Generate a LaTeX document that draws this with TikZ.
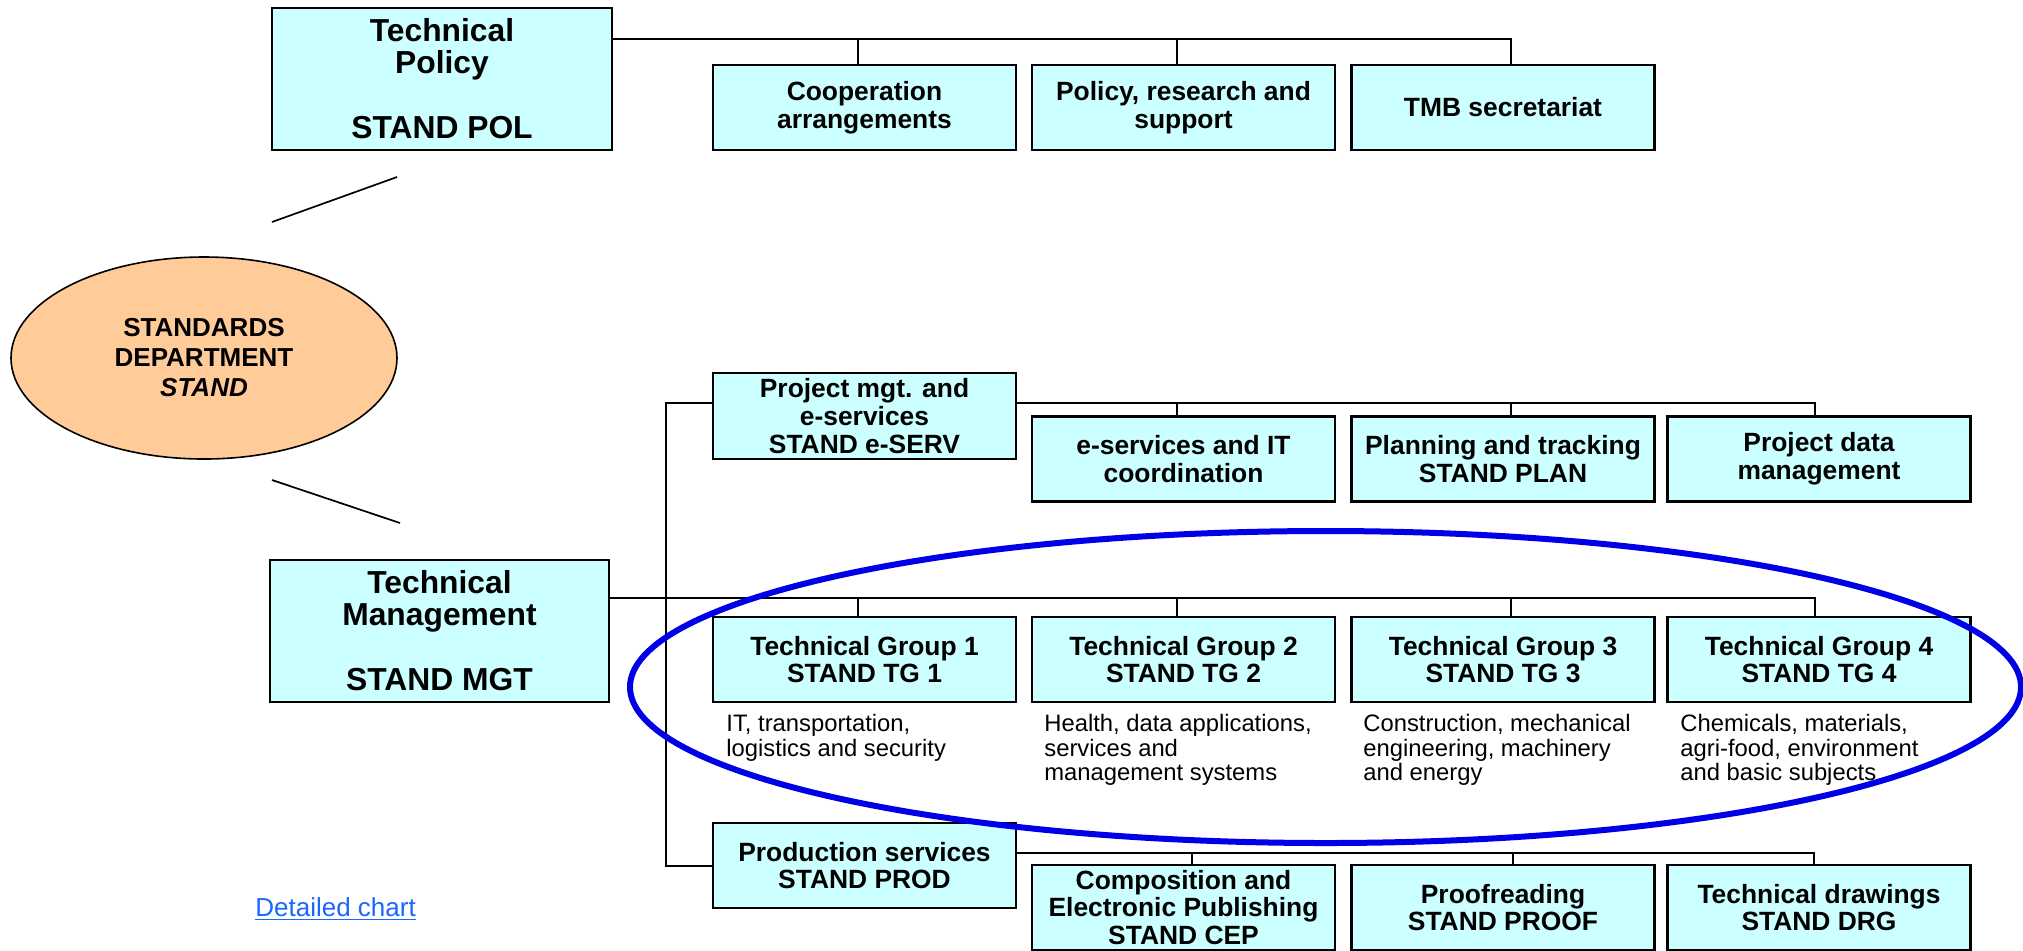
\documentclass[tikz,border=0pt]{standalone}
\usepackage{fontspec}
\setmainfont{Liberation Sans}
\usetikzlibrary{shapes.geometric}
\definecolor{boxcyan}{HTML}{CCFFFF}
\definecolor{deptpeach}{HTML}{FFCC99}
\definecolor{ringblue}{RGB}{0,0,230}
\definecolor{linkblue}{RGB}{26,102,255}
\begin{document}
\begin{tikzpicture}[x=0.5pt,y=-0.5pt,
  unitbox/.style={draw, line width=1.2pt, fill=boxcyan, inner sep=0pt, align=center,
    minimum width=151.5pt, minimum height=42.5pt,
    font=\bfseries\fontsize{13.2}{13.9}\selectfont},
  headbox/.style={unitbox, minimum height=71pt,
    font=\bfseries\fontsize{15.9}{16}\selectfont},
  dept/.style={ellipse, draw, line width=0.8pt, fill=deptpeach, inner sep=0pt, align=center,
    minimum width=193pt, minimum height=101pt,
    font=\bfseries\fontsize{13}{15}\selectfont},
  remit/.style={anchor=north west, inner sep=0pt, align=left,
    font=\fontsize{11.9}{12.25}\selectfont},
  conn/.style={line width=0.85pt},
  ring/.style={line width=3pt, draw=ringblue}]
\useasboundingbox (0,0) rectangle (2023,950);

% department and its two branches
\node[dept] (stand) at (204,358) {STANDARDS\\DEPARTMENT\\\textit{STAND}};
\node[headbox, minimum width=170pt] (pol) at (442,79) {Technical\\Policy\\[16.5pt]STAND POL};
\node[headbox, minimum width=169.5pt] (mgt) at (439.5,631) {Technical\\Management\\[16.5pt]STAND MGT};
\coordinate (upA) at (397,177);
\coordinate (upB) at (272,222);
\coordinate (dnA) at (272,480);
\coordinate (dnB) at (400,523);
\draw[conn] (upA) -- (upB);
\draw[conn] (dnA) -- (dnB);

% policy units
\node[unitbox] (coop) at (864.5,107.5) {Cooperation\\arrangements};
\node[unitbox] (prs)  at (1183.5,107.5) {Policy, research and\\support};
\node[unitbox] (tmb)  at (1503,107.5) {TMB secretariat};

% project management and e-services
\node[unitbox, minimum height=43pt] (eserv) at (864.5,416) {Project mgt. and\\e-services\\STAND e-SERV};
\node[unitbox] (itc)  at (1183.5,459) {e-services and IT\\coordination};
\node[unitbox] (plan) at (1503,459) {Planning and tracking\\STAND PLAN};
\node[unitbox] (pdm)  at (1819,459) {Project data\\management};

% technical groups
\node[unitbox] (tg1) at (864.5,659.5) {Technical Group 1\\STAND TG 1};
\node[unitbox] (tg2) at (1183.5,659.5) {Technical Group 2\\STAND TG 2};
\node[unitbox] (tg3) at (1503,659.5) {Technical Group 3\\STAND TG 3};
\node[unitbox] (tg4) at (1819,659.5) {Technical Group 4\\STAND TG 4};
\node[remit] (tg1txt) at (726,714) {IT, transportation,\\logistics and security};
\node[remit] (tg2txt) at (1044,714) {Health, data applications,\\services and\\management systems};
\node[remit] (tg3txt) at (1363,714) {Construction, mechanical\\engineering, machinery\\and energy};
\node[remit] (tg4txt) at (1680,714) {Chemicals, materials,\\agri-food, environment\\and basic subjects};

% production services
\node[unitbox] (prod)  at (864.5,865.5) {Production services\\STAND PROD};
\node[unitbox] (cep)   at (1183.5,907.5) {Composition and\\Electronic Publishing\\STAND CEP};
\node[unitbox] (proof) at (1503,907.5) {Proofreading\\STAND PROOF};
\node[unitbox] (drg)   at (1819,907.5) {Technical drawings\\STAND DRG};

% policy bus
\coordinate (busA) at (1511,39);
\draw[conn] (pol.east |- busA) -- (busA) -- (tmb.north -| busA);
\draw[conn] ([xshift=-3.25pt]coop.north) -- ([xshift=-3.25pt]coop.north |- busA);
\draw[conn] ([xshift=-3.25pt]prs.north) -- ([xshift=-3.25pt]prs.north |- busA);

% management spine
\coordinate (spineT) at (666,403);
\coordinate (spineB) at (666,866);
\draw[conn] (eserv.west |- spineT) -- (spineT) -- (spineB) -- (prod.west |- spineB);

% e-services bus
\coordinate (busB) at (1815,403);
\draw[conn] (eserv.east |- busB) -- (busB) -- (pdm.north -| busB);
\draw[conn] ([xshift=-3.25pt]itc.north) -- ([xshift=-3.25pt]itc.north |- busB);
\draw[conn] ([xshift=4pt]plan.north) -- ([xshift=4pt]plan.north |- busB);

% technical groups bus
\coordinate (busC) at (1815,598);
\draw[conn] (mgt.east |- busC) -- (busC) -- (tg4.north -| busC);
\draw[conn] ([xshift=-3.25pt]tg1.north) -- ([xshift=-3.25pt]tg1.north |- busC);
\draw[conn] ([xshift=-3.25pt]tg2.north) -- ([xshift=-3.25pt]tg2.north |- busC);
\draw[conn] ([xshift=4pt]tg3.north) -- ([xshift=4pt]tg3.north |- busC);

% production bus
\coordinate (busD) at (1814,853);
\draw[conn] (prod.east |- busD) -- (busD) -- (drg.north -| busD);
\draw[conn] ([xshift=4.25pt]cep.north) -- ([xshift=4.25pt]cep.north |- busD);
\draw[conn] ([xshift=5pt]proof.north) -- ([xshift=5pt]proof.north |- busD);

% highlight round the technical groups
\coordinate (ringc) at (1325.5,687);
\draw[ring] (ringc) ellipse [x radius=347.75pt, y radius=78pt];

% link
\node[anchor=base west, inner sep=0pt, text=linkblue, font=\fontsize{13}{15}\selectfont] (chart) at (255,916) {\underline{Detailed chart}};
\end{tikzpicture}
\end{document}
